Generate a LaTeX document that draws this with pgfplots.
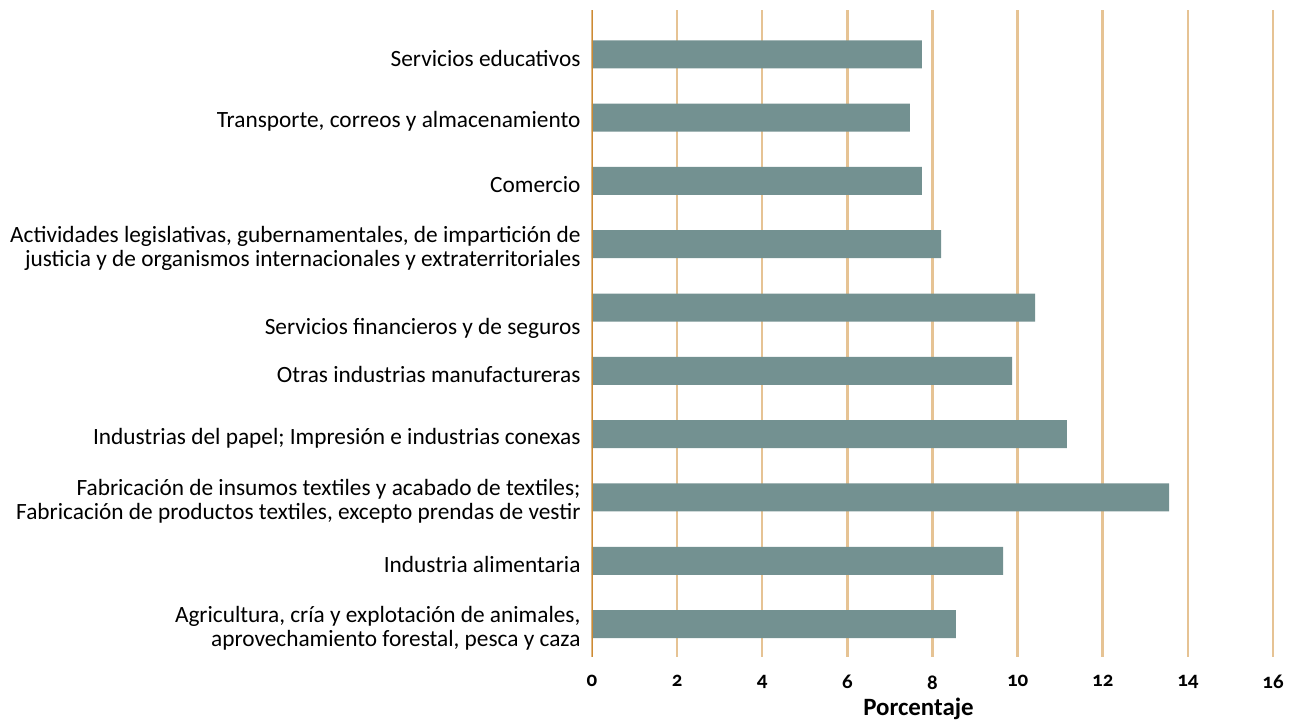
\documentclass[border=0pt]{standalone}
\usepackage{fontspec}
\setmainfont{Carlito}
\newfontfamily\tickfont{Carlito}[Numbers=OldStyle]
\usepackage{pgfplots}
\pgfplotsset{compat=1.18}
\definecolor{barc}{HTML}{739191}
\definecolor{gridc}{HTML}{E6C394}
\definecolor{axc}{HTML}{CD8A33}
\begin{document}
\begin{tikzpicture}
\begin{axis}[
  scale only axis, width=681bp, height=647bp,
  xmin=0, xmax=16, ymin=-0.52, ymax=9.7,
  xtick={0,2,...,16}, ytick={0,...,9},
  xmajorgrids, grid style={gridc, line width=2.5bp},
  axis line style={draw=none},
  major tick length=0pt,
  /pgf/number format/assume math mode=true,
  xticklabel style={font=\tickfont\bfseries\fontsize{21}{22}\selectfont, yshift=-15bp},
  xlabel={\bfseries Porcentaje},
  xlabel style={font=\fontsize{25}{26}\selectfont, yshift=-2bp, xshift=-14bp},
  yticklabel style={font=\fontsize{23.4}{24}\selectfont, align=right, xshift=-8bp, yshift=-4bp},
  yticklabels={
    {Agricultura, cría y explotación de animales,\\aprovechamiento forestal, pesca y caza},
    {Industria alimentaria},
    {Fabricación de insumos textiles y acabado de textiles;\\Fabricación de productos textiles, excepto prendas de vestir},
    {Industrias del papel; Impresión e industrias conexas},
    {Otras industrias manufactureras},
    {\mbox{}\\[26bp]Servicios financieros y de seguros},
    {Actividades legislativas, gubernamentales, de impartición de\\justicia y de organismos internacionales y extraterritoriales},
    {Comercio},
    {Transporte, correos y almacenamiento},
    {Servicios educativos}
  },
]
\addplot[xbar, bar width=28bp, fill=barc, draw=none] coordinates {
  (8.55,0) (9.66,1) (13.56,2) (11.16,3) (9.87,4)
  (10.41,5) (8.20,6) (7.75,7) (7.47,8) (7.75,9)
};
\draw[axc, line width=3bp] (axis cs:0,-0.52) -- (axis cs:0,9.7);
\end{axis}
\path (current axis.south west) ++(-592bp,-64bp) rectangle ++(1296bp,721bp);
\end{tikzpicture}
\end{document}
